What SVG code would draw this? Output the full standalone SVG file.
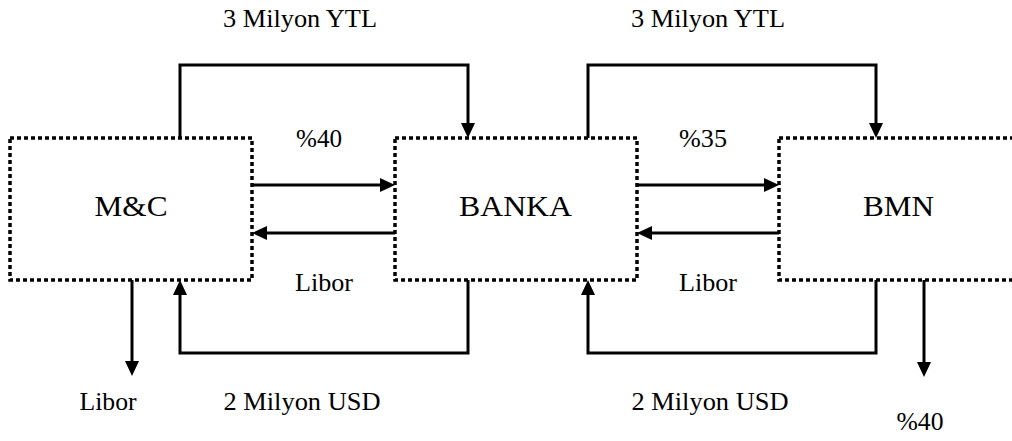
<svg xmlns="http://www.w3.org/2000/svg" width="1012" height="441" viewBox="0 0 1012 441">
  <style>
    .box { fill: none; stroke: #000; stroke-width: 3.5; stroke-dasharray: 4 3; }
    .flow { fill: none; stroke: #000; stroke-width: 3; stroke-linejoin: miter; }
    .arrow { marker-end: url(#head); }
    .lbl { font-size: 26px; }
    .name { font-size: 30px; }
  </style>
  <defs>
    <!-- filled triangle; tip sits 8px beyond the line end -->
    <marker id="head" markerUnits="userSpaceOnUse" markerWidth="16" markerHeight="16" refX="7" refY="7" orient="auto" viewBox="0 0 16 16">
      <path d="M0,0 L15,7 L0,14 Z" fill="#000"/>
    </marker>
  </defs>

  <rect width="1012" height="441" fill="#fff"/>

  <g font-family="'Liberation Serif', 'DejaVu Serif', 'Times New Roman', serif" text-anchor="middle" fill="#000">
    <g id="node-mc">
      <rect class="box" x="10" y="138" width="242" height="142"/>
      <text class="name" x="131" y="216" textLength="73" lengthAdjust="spacingAndGlyphs">M&amp;C</text>
    </g>
    <g id="node-banka">
      <rect class="box" x="395" y="138" width="242" height="142"/>
      <text class="name" x="515.5" y="216" textLength="113" lengthAdjust="spacingAndGlyphs">BANKA</text>
    </g>
    <g id="node-bmn">
      <rect class="box" x="779" y="138" width="242" height="142"/>
      <text class="name" x="898.5" y="216" textLength="71" lengthAdjust="spacingAndGlyphs">BMN</text>
    </g>

    <g id="connectors">
      <!-- YTL flows over the top -->
      <path class="flow arrow" d="M180,138 V65 H468 V130"/>
      <path class="flow arrow" d="M588,138 V65 H876 V130"/>
      <!-- swap legs between the boxes -->
      <path class="flow arrow" d="M252,185 H387"/>
      <path class="flow arrow" d="M395,233 H260"/>
      <path class="flow arrow" d="M637,185 H771"/>
      <path class="flow arrow" d="M779,233 H645"/>
      <!-- USD flows underneath -->
      <path class="flow arrow" d="M468,280 V353 H180 V288"/>
      <path class="flow arrow" d="M876,280 V353 H588 V288"/>
      <!-- outgoing payments -->
      <path class="flow arrow" d="M132,280 V368"/>
      <path class="flow arrow" d="M924,280 V369"/>
    </g>

    <g id="labels">
      <text class="lbl" x="300" y="27" textLength="154" lengthAdjust="spacingAndGlyphs">3 Milyon YTL</text>
      <text class="lbl" x="708" y="27" textLength="154" lengthAdjust="spacingAndGlyphs">3 Milyon YTL</text>
      <text class="lbl" x="319" y="147" textLength="46" lengthAdjust="spacingAndGlyphs">%40</text>
      <text class="lbl" x="703" y="147" textLength="48" lengthAdjust="spacingAndGlyphs">%35</text>
      <text class="lbl" x="324" y="291" textLength="58" lengthAdjust="spacingAndGlyphs">Libor</text>
      <text class="lbl" x="708" y="291" textLength="58" lengthAdjust="spacingAndGlyphs">Libor</text>
      <text class="lbl" x="108" y="410" textLength="57" lengthAdjust="spacingAndGlyphs">Libor</text>
      <text class="lbl" x="302" y="410" textLength="157" lengthAdjust="spacingAndGlyphs">2 Milyon USD</text>
      <text class="lbl" x="710" y="410" textLength="157" lengthAdjust="spacingAndGlyphs">2 Milyon USD</text>
      <text class="lbl" x="920" y="430" textLength="47" lengthAdjust="spacingAndGlyphs">%40</text>
    </g>
  </g>
</svg>
